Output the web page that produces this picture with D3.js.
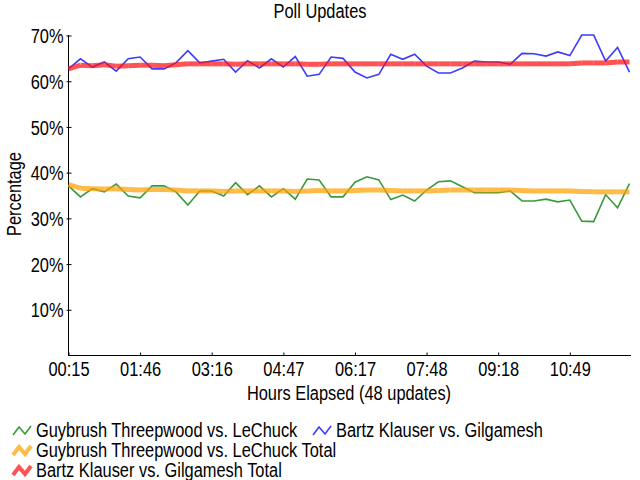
<!DOCTYPE html>
<html><head><meta charset="utf-8">
<script src="https://cdn.jsdelivr.net/npm/d3@7"></script>
<style>
html,body{margin:0;padding:0;background:#fff;}
svg{display:block;}
text{font-family:"Liberation Sans Narrow","Liberation Sans",Arial,sans-serif;font-size:20px;fill:#000;}
</style></head>
<body>
<script>
// ---- data ----
const tickLabels = ["00:15","01:46","03:16","04:47","06:17","07:48","09:18","10:49"];
const guybrush = [37.1,34.7,36.5,35.8,37.5,34.9,34.5,37.1,37.1,35.8,32.9,36.0,36.0,34.9,37.8,35.2,37.1,34.7,36.5,34.2,38.6,38.4,34.7,34.7,37.9,39.1,38.4,34.1,35.1,33.8,36.2,38.0,38.2,36.9,35.6,35.6,35.6,36.0,33.8,33.8,34.2,33.6,34.0,29.4,29.3,35.2,32.3,37.6];
const bartz = [62.7,64.9,63.1,64.2,62.2,64.9,65.3,62.7,62.7,64.0,66.7,64.0,64.4,64.8,62.0,64.5,62.9,64.9,63.1,65.4,61.1,61.5,65.3,65.0,62.0,60.7,61.5,65.9,64.8,65.9,63.3,61.8,61.8,62.9,64.4,64.2,64.2,63.7,66.1,66.0,65.5,66.4,65.6,70.1,70.1,64.4,67.4,62.0];
const guybrushTotal = [37.4,36.6,36.5,36.4,36.5,36.3,36.2,36.3,36.3,36.2,36.0,36.0,36.0,35.9,36.0,36.0,36.0,36.0,36.0,35.9,36.0,36.1,36.0,36.0,36.1,36.2,36.2,36.1,36.0,36.0,36.0,36.1,36.2,36.2,36.2,36.2,36.2,36.2,36.1,36.0,36.0,36.0,36.0,35.9,35.8,35.8,35.8,35.8];
const bartzTotal = [62.7,63.5,63.4,63.6,63.3,63.4,63.5,63.5,63.4,63.6,63.8,63.8,63.8,63.8,63.7,63.8,63.8,63.8,63.8,63.8,63.7,63.7,63.8,63.8,63.8,63.8,63.8,63.8,63.8,63.8,63.8,63.8,63.8,63.8,63.8,63.8,63.8,63.8,63.8,63.8,63.8,63.8,63.8,64.0,64.0,64.0,64.2,64.2];
const yTicks = [10,20,30,40,50,60,70];
const seriesNames = ["Guybrush Threepwood vs. LeChuck","Bartz Klauser vs. Gilgamesh","Guybrush Threepwood vs. LeChuck Total","Bartz Klauser vs. Gilgamesh Total"];

const W=640,H=480;
const svg=d3.select("body").append("svg").attr("width",W).attr("height",H);

const n = bartz.length;
const x = d3.scaleLinear().domain([0,n-1]).range([68.5,629.5]);
const y = d3.scaleLinear().domain([0,70]).range([355.5,35.5]);

// title
svg.append("text").attr("x",320).attr("y",18).attr("text-anchor","middle").text("Poll Updates");

// y axis
const yAxis = svg.append("g").attr("transform","translate(68.5,0)")
  .call(d3.axisLeft(y).tickValues(yTicks).tickFormat(d=>d+"%").tickSizeOuter(0).tickSizeInner(2).tickPadding(3));
yAxis.select(".domain").attr("d","M0,35V356").attr("stroke","#000");
yAxis.selectAll(".tick line").attr("x1",-2).attr("x2",3).attr("stroke","#000");
yAxis.selectAll(".tick text").attr("font-size",20).attr("font-family",null).attr("dy","0.36em");

// x axis
const tickIdx = tickLabels.map((_,i)=>i*6);
const xAxis = svg.append("g").attr("transform","translate(0,355.5)")
  .call(d3.axisBottom(x).tickValues(tickIdx).tickFormat((d,i)=>tickLabels[i]).tickSizeOuter(0).tickSizeInner(0).tickPadding(6));
xAxis.select(".domain").attr("d","M68,0H631").attr("stroke","#000");
xAxis.selectAll(".tick line").attr("y1",0).attr("y2",-3).attr("stroke","#000");
xAxis.selectAll(".tick text").attr("font-size",20).attr("font-family",null);

// axis titles
svg.append("text").attr("x",349).attr("y",400).attr("text-anchor","middle").text("Hours Elapsed (48 updates)");
svg.append("text").attr("transform","translate(21,194) rotate(-90)").attr("text-anchor","middle").text("Percentage");

// lines
const line = d3.line().x((d,i)=>x(i)).y(d=>y(d));
const plot = svg.append("g");
plot.append("path").datum(guybrush).attr("d",line).attr("fill","none").attr("stroke","#3a9a3a").attr("stroke-width",1.6);
plot.append("path").datum(bartz).attr("d",line).attr("fill","none").attr("stroke","#3c3cff").attr("stroke-width",1.6);
function thick(data,color){
  for(let i=0;i<data.length-1;i++){
    plot.append("path").datum([data[i],data[i+1]])
      .attr("d",d3.line().x((d,j)=>x(i+j)).y(d=>y(d)))
      .attr("fill","none").attr("stroke",color).attr("stroke-opacity",0.72)
      .attr("stroke-width",5).attr("stroke-linecap","butt");
  }
}
thick(guybrushTotal,"#ffa000");
thick(bartzTotal,"#ff1010");

// legend
const legend = [
  {name:seriesNames[0],color:"#3a9a3a",w:1.6,op:1,x:12,y:430},
  {name:seriesNames[1],color:"#3c3cff",w:1.6,op:1,x:312,y:430},
  {name:seriesNames[2],color:"#ffa000",w:4,op:0.72,x:12,y:450},
  {name:seriesNames[3],color:"#ff1010",w:4,op:0.72,x:12,y:470}
];
legend.forEach(l=>{
  const g=svg.append("g").attr("transform",`translate(${l.x},${l.y})`);
  g.append("path").attr("d","M1,5L7,-3L13,4L19,-4").attr("fill","none")
    .attr("stroke",l.color).attr("stroke-width",l.w).attr("stroke-opacity",l.op);
  g.append("text").attr("x",24).attr("y",7).text(l.name);
});

// narrow the text (reference uses a condensed face)
svg.selectAll("text").each(function(){
  const len=this.getComputedTextLength();
  d3.select(this).attr("textLength",(len*0.82).toFixed(1)).attr("lengthAdjust","spacingAndGlyphs");
});
</script>
</body></html>
